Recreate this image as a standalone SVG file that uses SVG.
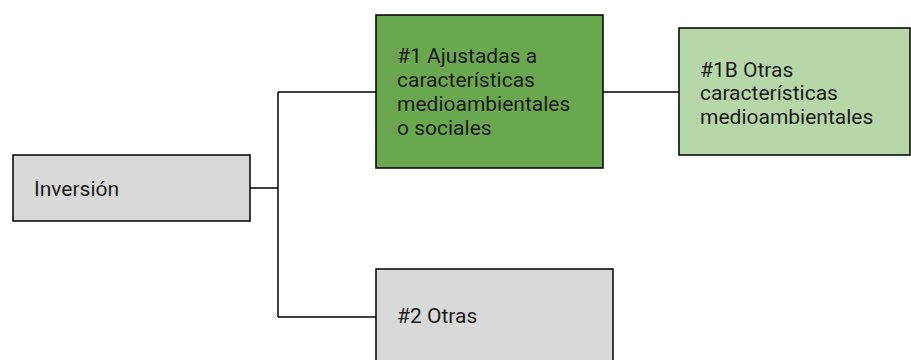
<svg xmlns="http://www.w3.org/2000/svg" width="911" height="360" viewBox="0 0 911 360">
<style>
.box{stroke:#000;stroke-width:1.5}
.gray{fill:#d9d9d9}
.green{fill:#6aa84f}
.lgreen{fill:#b6d7a8}
text{font-family:Roboto,"Liberation Sans",sans-serif;font-size:21px;fill:#1a1a1a}
.conn{fill:none;stroke:#000;stroke-width:1.5}
</style>
<rect width="911" height="360" fill="#fff"/>
<g id="connectors">
<path class="conn" d="M250,188 H278"/>
<path class="conn" d="M278,92 V317"/>
<path class="conn" d="M278,92 H376"/>
<path class="conn" d="M278,317 H376"/>
<path class="conn" d="M603,92 H679"/>
</g>
<g id="inversion">
<rect class="box gray" x="13" y="155" width="237" height="66"/>
<text x="34" y="196">Inversión</text>
</g>
<g id="n1">
<rect class="box green" x="376" y="15" width="227" height="153"/>
<text x="397" y="63">#1 Ajustadas a</text>
<text x="397" y="87">características</text>
<text x="397" y="111">medioambientales</text>
<text x="397" y="135">o sociales</text>
</g>
<g id="n1b">
<rect class="box lgreen" x="679" y="28" width="231" height="127"/>
<text x="700" y="77">#1B Otras</text>
<text x="700" y="100">características</text>
<text x="700" y="124">medioambientales</text>
</g>
<g id="n2">
<rect class="box gray" x="376" y="269" width="237" height="100"/>
<text x="397" y="323">#2 Otras</text>
</g>
</svg>
